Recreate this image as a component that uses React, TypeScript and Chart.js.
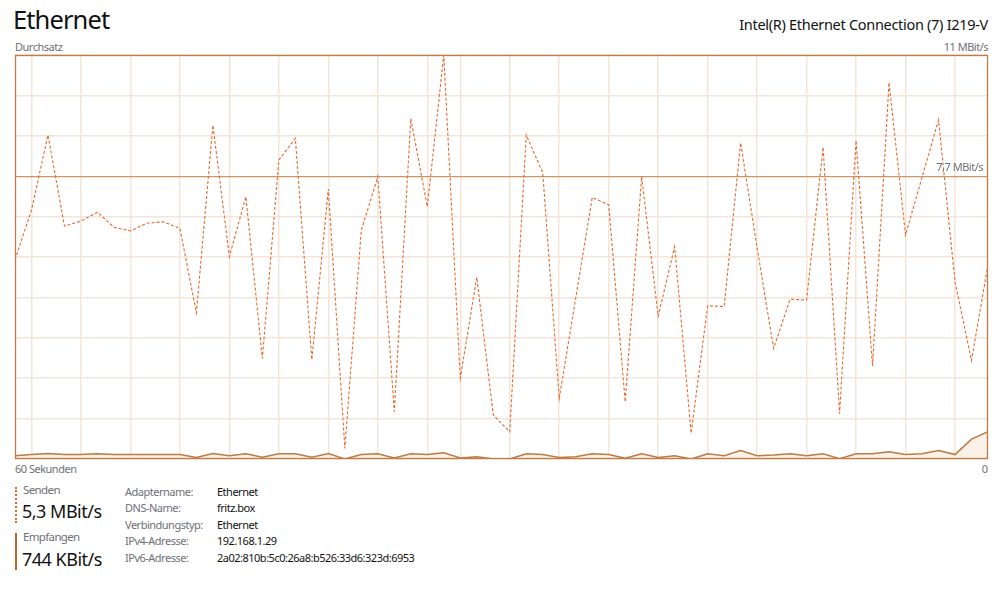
import React, { useEffect, useRef } from 'react';
import { Chart, registerables } from 'chart.js';

Chart.register(...registerables);

// Throughput in MBit/s, one sample per second (oldest first)
const sendMbit = [
  5.42, 6.78, 8.82, 6.34, 6.48, 6.72, 6.31, 6.21, 6.42, 6.46,
  6.28, 3.98, 9.09, 5.51, 7.14, 2.74, 8.14, 8.73, 2.7, 7.35,
  0.29, 6.23, 7.69, 1.29, 9.27, 6.87, 11.0, 2.2, 4.95, 1.2,
  0.74, 8.82, 7.8, 1.65, 4.38, 7.12, 6.92, 1.56, 7.69, 3.89,
  5.78, 0.7, 4.17, 4.15, 8.61, 5.75, 3.01, 4.35, 4.33, 8.49,
  1.24, 8.67, 2.53, 10.25, 6.1, 7.67, 9.23, 4.83, 2.68, 5.3,
];
const receiveMbit = [
  0.09, 0.12, 0.15, 0.12, 0.12, 0.14, 0.12, 0.12, 0.12, 0.12,
  0.12, 0.04, 0.15, 0.09, 0.14, 0.05, 0.14, 0.14, 0.05, 0.15,
  0.0, 0.12, 0.14, 0.03, 0.14, 0.12, 0.17, 0.03, 0.06, 0.0,
  0.0, 0.14, 0.12, 0.04, 0.06, 0.14, 0.12, 0.02, 0.14, 0.04,
  0.09, 0.0, 0.14, 0.09, 0.23, 0.09, 0.11, 0.14, 0.09, 0.14,
  0.01, 0.14, 0.14, 0.2, 0.12, 0.14, 0.23, 0.12, 0.54, 0.744,
];
const xGridIndices = [1, 4, 7, 10, 13, 16, 19, 22, 25, 27, 30, 33, 36, 39, 42, 45, 48, 51, 54, 57];
const yGridValues = [0, 1.1, 2.2, 3.3, 4.4, 5.5, 6.6, 7.7, 8.8, 9.9, 11];
const yMax = 11;
const refValue = 7.7;
const refLabel = '7,7 MBit/s';

const infoLabels = ['Adaptername:', 'DNS-Name:', 'Verbindungstyp:', 'IPv4-Adresse:', 'IPv6-Adresse:'];
const infoValues = ['Ethernet', 'fritz.box', 'Ethernet', '192.168.1.29', '2a02:810b:5c0:26a8:b526:33d6:323d:6953'];

const FONT = '"Noto Sans", "Open Sans", sans-serif';
const FRAME = '#C27A45';
const GRID = '#F4E5D8';
const REF = '#CF9466';
const SEND = '#E4692F';
const RECV = '#BE7A45';
const FILL = '#FBF1E7';
const GREY = '#6F6F78';

const framePlugin = {
  id: 'frame',
  afterDatasetsDraw(chart: any) {
    const { ctx, chartArea } = chart;
    ctx.save();
    ctx.strokeStyle = FRAME;
    ctx.lineWidth = 1.3;
    ctx.strokeRect(chartArea.left + 0.5, chartArea.top + 0.5, chartArea.right - chartArea.left - 1, chartArea.bottom - chartArea.top - 1);
    const y = chart.scales.y.getPixelForValue(refValue);
    ctx.font = `11px ${FONT}`;
    ctx.fillStyle = GREY;
    ctx.textAlign = 'right';
    ctx.textBaseline = 'alphabetic';
    if ('letterSpacing' in ctx) (ctx as any).letterSpacing = '-0.5px';
    ctx.fillText(refLabel, chartArea.right - 5, y - 5);
    ctx.restore();
  },
};

function ThroughputChart() {
  const ref = useRef<HTMLCanvasElement>(null);
  useEffect(() => {
    if (!ref.current) return;
    const chart = new Chart(ref.current, {
      type: 'line',
      data: {
        datasets: [
          {
            label: 'Senden',
            data: sendMbit.map((v, i) => ({ x: i, y: v })),
            borderColor: SEND,
            borderWidth: 1.1,
            borderDash: [3, 2],
            pointRadius: 0,
            tension: 0,
            fill: false,
            clip: 0,
          },
          {
            label: 'Empfangen',
            data: receiveMbit.map((v, i) => ({ x: i, y: v })),
            borderColor: RECV,
            borderWidth: 1.5,
            backgroundColor: FILL,
            pointRadius: 0,
            tension: 0,
            fill: 'origin',
            clip: 0,
          },
        ],
      },
      options: {
        animation: false,
        responsive: false,
        maintainAspectRatio: false,
        layout: { padding: { left: 1, right: 2, top: 1, bottom: 2 } },
        plugins: { legend: { display: false }, tooltip: { enabled: false } },
        scales: {
          x: {
            type: 'linear',
            min: 0,
            max: sendMbit.length - 1,
            afterBuildTicks: (scale: any) => {
              scale.ticks = xGridIndices.map((v) => ({ value: v }));
            },
            ticks: { display: false },
            grid: { color: GRID, lineWidth: 1.5, drawTicks: false },
            border: { display: false },
          },
          y: {
            type: 'linear',
            min: 0,
            max: yMax,
            afterBuildTicks: (scale: any) => {
              scale.ticks = yGridValues.map((v) => ({ value: v }));
            },
            ticks: { display: false },
            grid: {
              drawTicks: false,
              lineWidth: (c: any) => (c.tick && Math.abs(c.tick.value - refValue) < 1e-6 ? 1.3 : 1.5),
              color: (c: any) => (c.tick && Math.abs(c.tick.value - refValue) < 1e-6 ? REF : GRID),
            },
            border: { display: false },
          },
        },
      },
      plugins: [framePlugin],
    });
    return () => chart.destroy();
  }, []);
  return <canvas ref={ref} width={976} height={407} style={{ position: 'absolute', left: 14, top: 54, width: 976, height: 407 }} />;
}

const t = (extra: React.CSSProperties): React.CSSProperties => ({
  position: 'absolute',
  fontFamily: FONT,
  lineHeight: 1,
  whiteSpace: 'nowrap',
  margin: 0,
  ...extra,
});

export default function App() {
  return (
    <div style={{ position: 'absolute', left: 0, top: 0, width: 998, height: 590, background: '#fff', overflow: 'hidden' }}>
      <div style={t({ left: 13, top: 6.5, fontSize: 25.5, letterSpacing: -0.9, color: '#111' })}>Ethernet</div>
      <div style={t({ right: 10, top: 16.5, fontSize: 14.5, letterSpacing: -0.3, color: '#111' })}>Intel(R) Ethernet Connection (7) I219-V</div>
      <div style={t({ left: 15, top: 40.5, fontSize: 11, letterSpacing: -0.5, color: GREY })}>Durchsatz</div>
      <div style={t({ right: 10, top: 40.5, fontSize: 11, letterSpacing: -0.5, color: GREY })}>11 MBit/s</div>
      <ThroughputChart />
      <div style={t({ left: 15, top: 462.5, fontSize: 11, letterSpacing: -0.5, color: GREY })}>60 Sekunden</div>
      <div style={t({ right: 10, top: 462.5, fontSize: 11, color: GREY })}>0</div>

      <div style={{ position: 'absolute', left: 15, top: 487, height: 36, borderLeft: `2px dotted ${SEND}` }} />
      <div style={t({ left: 23, top: 484, fontSize: 11.5, letterSpacing: -0.6, color: GREY })}>Senden</div>
      <div style={t({ left: 22, top: 502, fontSize: 18, letterSpacing: -0.5, color: '#111' })}>5,3 MBit/s</div>
      <div style={{ position: 'absolute', left: 15, top: 533, height: 37, width: 2, background: '#B8682C' }} />
      <div style={t({ left: 23, top: 531, fontSize: 11.5, letterSpacing: -0.65, color: GREY })}>Empfangen</div>
      <div style={t({ left: 22, top: 549.5, fontSize: 18, letterSpacing: -0.5, color: '#111' })}>744 KBit/s</div>

      {infoLabels.map((l, i) => (
        <div key={l} style={t({ left: 125, top: 485.5 + i * 16.5, fontSize: 11, letterSpacing: -0.5, color: GREY })}>{l}</div>
      ))}
      {infoValues.map((v, i) => (
        <div key={i} style={t({ left: 217, top: 485.5 + i * 16.5, fontSize: 11, letterSpacing: -0.5, color: '#111' })}>{v}</div>
      ))}
    </div>
  );
}
